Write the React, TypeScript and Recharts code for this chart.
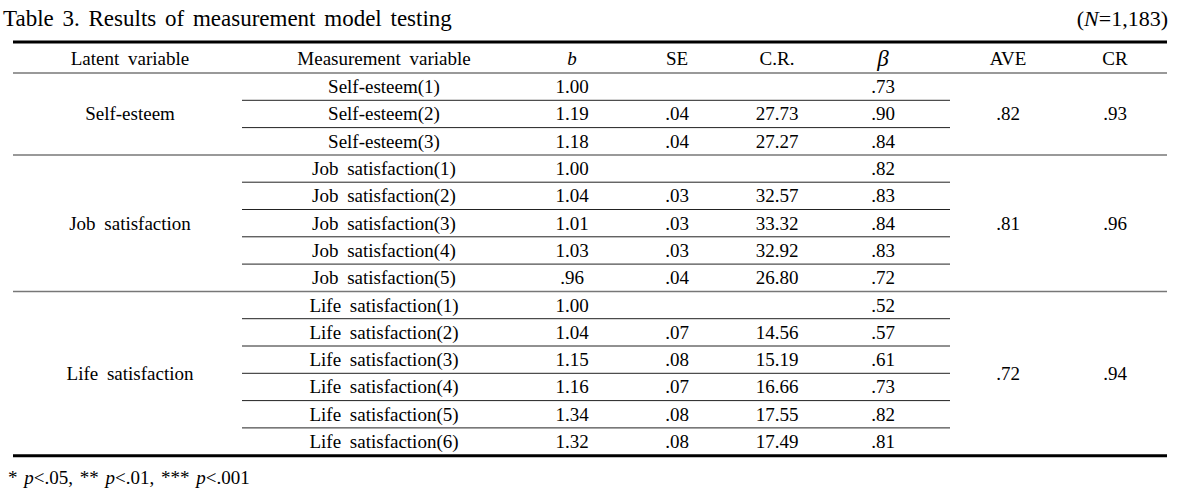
import * as React from "react"
import { ComposedChart, ReferenceLine, Scatter, XAxis, YAxis } from "recharts"

// Table 3 drawn as a chart: every cell is a scatter point rendered as text

const latentVars = ["Self-esteem", "Job satisfaction", "Life satisfaction"]
const groupSizes = [3, 5, 6]
const measureVars = [
  "Self-esteem(1)", "Self-esteem(2)", "Self-esteem(3)",
  "Job satisfaction(1)", "Job satisfaction(2)", "Job satisfaction(3)", "Job satisfaction(4)", "Job satisfaction(5)",
  "Life satisfaction(1)", "Life satisfaction(2)", "Life satisfaction(3)", "Life satisfaction(4)", "Life satisfaction(5)", "Life satisfaction(6)",
]
const bValues = ["1.00", "1.19", "1.18", "1.00", "1.04", "1.01", "1.03", ".96", "1.00", "1.04", "1.15", "1.16", "1.34", "1.32"]
const seValues = ["", ".04", ".04", "", ".03", ".03", ".03", ".04", "", ".07", ".08", ".07", ".08", ".08"]
const crValues = ["", "27.73", "27.27", "", "32.57", "33.32", "32.92", "26.80", "", "14.56", "15.19", "16.66", "17.55", "17.49"]
const betaValues = [".73", ".90", ".84", ".82", ".83", ".84", ".83", ".72", ".52", ".57", ".61", ".73", ".82", ".81"]
const aveValues = [".82", ".81", ".72"]
const compRelValues = [".93", ".96", ".94"]
const headers = ["Latent variable", "Measurement variable", "b", "SE", "C.R.", "β", "AVE", "CR"]

// layout
const W = 1186
const H = 495
const colX = [130, 384, 572, 677, 777, 883, 1008, 1115]
const left = 13
const right = 1167
const innerRight = 950
const headerY = 58
const bodyTop = 73
const rowH = 27.3
const FONT = "'Liberation Serif', 'Times New Roman', serif"

if (typeof document !== "undefined") document.body.style.margin = "0"

const rowY = (i: number) => bodyTop + (i + 0.5) * rowH
const lineY = (i: number) => bodyTop + i * rowH

function buildCells() {
  const cells: any[] = []
  headers.forEach((h, c) => {
    cells.push({ x: colX[c], y: headerY, label: h, italic: h === "b" || h === "β", size: h === "β" ? 23 : 19 })
  })
  measureVars.forEach((m, i) => {
    const y = rowY(i)
    cells.push({ x: colX[1], y, label: m })
    cells.push({ x: colX[2], y, label: bValues[i] })
    cells.push({ x: colX[3], y, label: seValues[i] })
    cells.push({ x: colX[4], y, label: crValues[i] })
    cells.push({ x: colX[5], y, label: betaValues[i] })
  })
  let start = 0
  groupSizes.forEach((n, g) => {
    const y = bodyTop + (start + n / 2) * rowH
    cells.push({ x: colX[0], y, label: latentVars[g] })
    cells.push({ x: colX[6], y, label: aveValues[g] })
    cells.push({ x: colX[7], y, label: compRelValues[g] })
    start += n
  })
  return cells.filter((c) => c.label !== "")
}

function CellText(props: any) {
  const { cx, cy, payload } = props
  return (
    <text
      x={cx}
      y={cy}
      textAnchor="middle"
      dominantBaseline="central"
      fontFamily={FONT}
      fontSize={payload.size || 19}
      fontStyle={payload.italic ? "italic" : "normal"}
      wordSpacing={4}
      fill="#000"
    >
      {payload.label}
    </text>
  )
}

function buildLines() {
  const lines: any[] = []
  lines.push({ y: 42, x1: left, x2: right, w: 3, c: "#000" })
  lines.push({ y: lineY(0), x1: left, x2: right, w: 1.5, c: "#777" })
  let start = 0
  groupSizes.forEach((n, g) => {
    for (let k = 1; k < n; k++) {
      lines.push({ y: lineY(start + k), x1: 242, x2: innerRight, w: 1, c: "#222" })
    }
    start += n
    if (g < groupSizes.length - 1) lines.push({ y: lineY(start), x1: left, x2: right, w: 1.5, c: "#777" })
  })
  lines.push({ y: lineY(start) + 0.5, x1: left, x2: right, w: 3, c: "#000" })
  return lines
}

export default function App() {
  const cells = buildCells()
  const lines = buildLines()
  return (
    <div style={{ width: W, height: H, background: "#fff", position: "relative" }}>
      <ComposedChart width={W} height={H} margin={{ top: 0, right: 0, bottom: 0, left: 0 }}>
        <XAxis type="number" dataKey="x" domain={[0, W]} hide />
        <YAxis type="number" dataKey="y" domain={[0, H]} reversed hide />
        {lines.map((l, i) => (
          <ReferenceLine
            key={`l-${i}`}
            segment={[{ x: l.x1, y: l.y }, { x: l.x2, y: l.y }]}
            stroke={l.c}
            strokeWidth={l.w}
            ifOverflow="visible"
          />
        ))}
        <Scatter data={cells} shape={<CellText />} isAnimationActive={false} />
        <text x={3} y={18} dominantBaseline="central" fontFamily={FONT} fontSize={23} wordSpacing={3}>
          Table 3. Results of measurement model testing
        </text>
        <text x={1168} y={18} textAnchor="end" dominantBaseline="central" fontFamily={FONT} fontSize={22}>
          (<tspan fontStyle="italic">N</tspan>=1,183)
        </text>
        <text x={8} y={477} dominantBaseline="central" fontFamily={FONT} fontSize={19} wordSpacing={2}>
          * <tspan fontStyle="italic">p</tspan>&lt;.05, ** <tspan fontStyle="italic">p</tspan>&lt;.01, *** <tspan fontStyle="italic">p</tspan>&lt;.001
        </text>
      </ComposedChart>
    </div>
  )
}
